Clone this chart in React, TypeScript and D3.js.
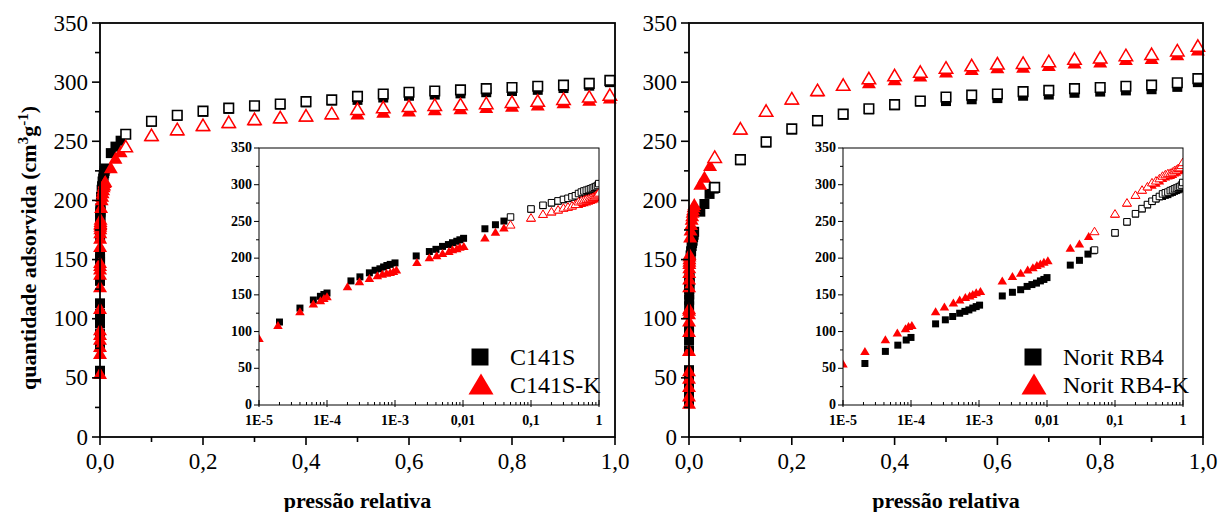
import React from "react";
import * as d3 from "d3";

const W = 1219;
const H = 512;

// desorption branch pressures (open symbols) and the high-pressure adsorption points
const desP = [0.05, 0.1, 0.15, 0.2, 0.25, 0.3, 0.35, 0.4, 0.45, 0.5, 0.55, 0.6, 0.65, 0.7, 0.75, 0.8, 0.85, 0.9, 0.95, 0.99];
const hiP = desP.slice(1);

// C141S
const c141sLowP = [1e-6, 2e-6, 3.5e-6, 5e-6, 7e-6, 2e-5, 4e-5, 6.3e-5, 8e-5, 9e-5, 1e-4, 2.25e-4, 3.05e-4, 4.2e-4, 5.1e-4, 6e-4, 6.8e-4, 7.6e-4, 8.5e-4, 1e-3, 2.05e-3, 3.2e-3, 4e-3, 5e-3, 6.1e-3, 7e-3, 8.1e-3, 9e-3, 0.0102, 0.021, 0.03, 0.04];
const c141sLowV = [56, 76, 87, 96, 104, 113, 132, 143, 148, 150.5, 152.5, 169, 174.5, 180, 183.5, 185.5, 188, 190, 191.5, 193.5, 203, 209, 212, 216, 218.5, 221, 223, 225, 227, 240, 245.5, 250.5];
const c141sHiV = [266.5, 271.5, 275, 277.5, 279.5, 281, 283, 284.5, 285, 287, 288.5, 289.5, 290.5, 291.5, 292.5, 293.5, 295, 297, 300];
const c141sDesV = [256, 267, 272, 275.5, 278, 280, 281.5, 283.5, 285, 288, 290, 291.5, 292.5, 293.5, 294.5, 295.5, 296.5, 297.5, 299, 301.5];

// C141S-K
const c141skLowP = [1e-6, 2e-6, 3.5e-6, 5e-6, 7e-6, 1e-5, 1.9e-5, 4e-5, 6.3e-5, 8e-5, 9e-5, 1e-4, 2e-4, 3e-4, 4.2e-4, 5.5e-4, 6.5e-4, 7.5e-4, 8.5e-4, 9.5e-4, 1.05e-3, 2.1e-3, 3.2e-3, 4.1e-3, 5e-3, 6.2e-3, 7e-3, 8.1e-3, 9e-3, 0.0103, 0.021, 0.03, 0.04];
const c141skLowV = [53, 70, 76, 82, 86, 90, 108, 126.5, 137, 141.5, 144.5, 147, 160.5, 167.5, 172, 175.5, 177.5, 179, 180, 181.5, 183.5, 193.5, 200, 203, 206, 208.5, 211, 212.5, 214.5, 215.5, 227, 235, 240.5];
const c141skHiV = [254, 259, 262.5, 265, 267.5, 269, 270.5, 272.5, 272.5, 274, 275, 276, 277, 278, 279, 280, 282, 284, 286];
const c141skDesV = [245, 254.5, 259.5, 263, 265.5, 268, 269.5, 271, 273, 276.5, 278, 279, 280, 280.5, 281.5, 282.5, 283.5, 285, 287, 288.5];

// Norit RB4
const rb4LowP = [1e-6, 2e-6, 4e-6, 7e-6, 2.1e-5, 4.2e-5, 6.4e-5, 8.5e-5, 1e-4, 2.3e-4, 3.2e-4, 4.1e-4, 5.2e-4, 6.2e-4, 7.1e-4, 8.1e-4, 9.1e-4, 1.02e-3, 2.2e-3, 3.1e-3, 4.1e-3, 5.1e-3, 6e-3, 7e-3, 8e-3, 9e-3, 0.01, 0.022, 0.03, 0.04, 0.048];
const rb4LowV = [31, 37, 44, 50, 56.5, 73, 81.5, 88.5, 92, 110.5, 116, 120.5, 125, 127.5, 129.5, 132, 134, 136, 148.5, 153.5, 157, 161.5, 164, 166, 169, 171, 173.5, 190.5, 197, 205.5, 210];
const rb4HiV = [234, 249, 260, 267, 272.5, 277, 280.5, 283.5, 284, 285.5, 286.5, 288.5, 289.5, 291, 292, 293, 294, 296, 300];
const rb4DesV = [211, 234.5, 249.5, 260.5, 267.5, 273, 277.5, 281, 284, 287.5, 289, 290, 292, 293, 294.5, 295.5, 296.5, 297.5, 299.5, 303];

// Norit RB4-K
const rb4kLowP = [1e-6, 2e-6, 4e-6, 7e-6, 1e-5, 2.1e-5, 4.2e-5, 6.3e-5, 8.3e-5, 9.2e-5, 1.03e-4, 2.3e-4, 3.1e-4, 4.2e-4, 5.2e-4, 6.3e-4, 7.3e-4, 8.1e-4, 9.1e-4, 1.05e-3, 2.2e-3, 3.1e-3, 4.1e-3, 5.2e-3, 6.2e-3, 7.1e-3, 8e-3, 9e-3, 0.0103, 0.022, 0.03, 0.041];
const rb4kLowV = [28, 34, 42, 49, 55.5, 72.5, 88.5, 97.5, 103.5, 106.5, 108, 126.5, 133, 138.5, 142.5, 146, 148, 150, 152.5, 154, 168.5, 174.5, 179, 183.5, 186.5, 189.5, 191.5, 194, 196, 213, 219, 229];
const rb4kHiV = [259.5, 274.5, 285, 292, 296.5, 299, 301.5, 304.5, 308, 310, 311.5, 312, 313.5, 315.5, 316.5, 318.5, 319.5, 322.5, 326.5];
const rb4kDesV = [236, 260, 275, 285.5, 292.5, 297, 302.5, 305, 308, 311.5, 313.5, 315, 315.5, 317, 319, 320, 322, 323, 326, 330];

const mainTicksY = d3.range(0, 351, 50);
const insetTickLabels = ["1E-5", "1E-4", "1E-3", "0,01", "0,1", "1"];

const FONT = "Liberation Serif";
const RED = "#ff0000";

type Pt = { p: number; v: number };
const zip = (ps: number[], vs: number[]): Pt[] => ps.map((p, i) => ({ p, v: vs[i] }));

const tri = (w: number, h: number) => `M0,${-h * 0.6}L${w / 2},${h * 0.4}L${-w / 2},${h * 0.4}Z`;
const sq = (s: number) => `M${-s / 2},${-s / 2}h${s}v${s}h${-s}Z`;

type PanelProps = {
  id: string;
  x0: number;
  x1: number;
  ix0: number;
  ix1: number;
  blackFilled: Pt[];
  blackOpen: Pt[];
  redFilled: Pt[];
  redOpen: Pt[];
  names: [string, string];
  legendX: number;
  yLabel?: boolean;
};

const Panel = ({ id, x0, x1, ix0, ix1, blackFilled, blackOpen, redFilled, redOpen, names, legendX, yLabel }: PanelProps) => {
  const top = 23;
  const bottom = 437;
  const x = d3.scaleLinear().domain([0, 1]).range([x0, x1]);
  const y = d3.scaleLinear().domain([0, 350]).range([bottom, top]);

  const iTop = 148;
  const iBottom = 405;
  const ix = d3.scaleLog().domain([1e-5, 1]).range([ix0, ix1]);
  const iy = d3.scaleLinear().domain([0, 350]).range([iBottom, iTop]);

  const minorLog: number[] = [];
  for (let e = -5; e < 0; e++) for (let k = 2; k <= 9; k++) minorLog.push(k * Math.pow(10, e));
  const majorLog = d3.range(-5, 1).map((e) => Math.pow(10, e));

  const fmt = (d: number) => d3.format(".1f")(d).replace(".", ",");

  const markers = (pts: Pt[], sx: (p: number) => number, sy: (v: number) => number, d: string, fill: string, stroke: string, sw: number) =>
    pts.map((pt, i) => (
      <path key={i} d={d} transform={`translate(${sx(pt.p)},${sy(pt.v)})`} fill={fill} stroke={stroke} strokeWidth={sw} />
    ));

  const mx = (p: number) => x(p);
  const ixf = (p: number) => ix(p);

  return (
    <g>
      {/* main plot */}
      {markers(blackFilled, mx, y, sq(10), "#000", "none", 0)}
      {markers(redFilled, mx, y, tri(14, 12), RED, "none", 0)}
      {markers(blackOpen, mx, y, sq(9.5), "#fff", "#000", 1.6)}
      {markers(redOpen, mx, y, tri(13.5, 11.5), "#fff", RED, 1.5)}

      <rect x={x0} y={top} width={x1 - x0} height={bottom - top} fill="none" stroke="#000" strokeWidth={1.8} />
      {d3.range(0, 1.01, 0.1).map((t, i) => (
        <line key={"xt" + i} x1={x(t)} x2={x(t)} y1={bottom} y2={bottom + (i % 2 === 0 ? 8 : 5)} stroke="#000" strokeWidth={1.6} />
      ))}
      {d3.range(0, 1.01, 0.2).map((t, i) => (
        <text key={"xl" + i} x={x(t)} y={469} textAnchor="middle" fontFamily={FONT} fontSize={23}>
          {fmt(t)}
        </text>
      ))}
      {d3.range(0, 351, 25).map((t, i) => (
        <line key={"yt" + i} x1={x0} x2={x0 - (i % 2 === 0 ? 8 : 5)} y1={y(t)} y2={y(t)} stroke="#000" strokeWidth={1.6} />
      ))}
      {mainTicksY.map((t) => (
        <text key={"yl" + t} x={x0 - 12} y={y(t)} dy="0.33em" textAnchor="end" fontFamily={FONT} fontSize={23}>
          {t}
        </text>
      ))}
      <text x={(x0 + x1) / 2} y={508} textAnchor="middle" fontFamily={FONT} fontSize={22} fontWeight="bold">
        pressão relativa
      </text>
      {yLabel && (
        <text transform="translate(36,248) rotate(-90)" textAnchor="middle" fontFamily={FONT} fontSize={22} fontWeight="bold">
          quantidade adsorvida (cm
          <tspan dy={-8} fontSize={15}>3</tspan>
          <tspan dy={8}>g</tspan>
          <tspan dy={-8} fontSize={15}>-1</tspan>
          <tspan dy={8}>)</tspan>
        </text>
      )}

      {/* inset */}
      <defs>
        <clipPath id={id + "clip"}>
          <rect x={ix0} y={iTop} width={ix1 - ix0} height={iBottom - iTop} />
        </clipPath>
      </defs>
      <rect x={ix0} y={iTop} width={ix1 - ix0} height={iBottom - iTop} fill="#fff" />
      <g clipPath={`url(#${id}clip)`}>
        {markers(blackFilled, ixf, iy, sq(7), "#000", "none", 0)}
        {markers(redFilled, ixf, iy, tri(9.5, 8), RED, "none", 0)}
        {markers(blackOpen, ixf, iy, sq(6.5), "#fff", "#000", 1)}
        {markers(redOpen, ixf, iy, tri(9, 7.5), "#fff", RED, 1)}
      </g>
      <rect x={ix0} y={iTop} width={ix1 - ix0} height={iBottom - iTop} fill="none" stroke="#000" strokeWidth={1} />
      {minorLog.map((t, i) => (
        <line key={"mt" + i} x1={ix(t)} x2={ix(t)} y1={iBottom} y2={iBottom - 3} stroke="#000" strokeWidth={1} />
      ))}
      {majorLog.map((t, i) => (
        <line key={"Mt" + i} x1={ix(t)} x2={ix(t)} y1={iBottom + 2} y2={iBottom - 5} stroke="#000" strokeWidth={1} />
      ))}
      {majorLog.map((t, i) => (
        <text key={"il" + i} x={ix(t)} y={iBottom + 20} textAnchor="middle" fontFamily={FONT} fontSize={14} fontWeight="bold">
          {insetTickLabels[i]}
        </text>
      ))}
      {d3.range(0, 351, 25).map((t, i) => (
        <line key={"iyt" + i} x1={ix0} x2={ix0 - (i % 2 === 0 ? 5 : 3)} y1={iy(t)} y2={iy(t)} stroke="#000" strokeWidth={1} />
      ))}
      {mainTicksY.map((t) => (
        <text key={"iyl" + t} x={ix0 - 7} y={iy(t)} dy="0.3em" textAnchor="end" fontFamily={FONT} fontSize={14} fontWeight="bold">
          {t}
        </text>
      ))}

      {/* legend */}
      <path d={sq(17)} transform={`translate(${legendX},357)`} fill="#000" />
      <text x={legendX + 30} y={365} fontFamily={FONT} fontSize={24}>
        {names[0]}
      </text>
      <path d={tri(25, 21)} transform={`translate(${legendX + 1},386)`} fill={RED} />
      <text x={legendX + 30} y={393} fontFamily={FONT} fontSize={24}>
        {names[1]}
      </text>
    </g>
  );
};

export default function App() {
  return (
    <svg width={W} height={H} style={{ position: "absolute", left: 0, top: 0, background: "#fff" }}>
      <Panel
        id="left"
        x0={100}
        x1={615}
        ix0={259}
        ix1={599}
        blackFilled={zip(c141sLowP, c141sLowV).concat(zip(hiP, c141sHiV))}
        blackOpen={zip(desP, c141sDesV)}
        redFilled={zip(c141skLowP, c141skLowV).concat(zip(hiP, c141skHiV))}
        redOpen={zip(desP, c141skDesV)}
        names={["C141S", "C141S-K"]}
        legendX={480}
        yLabel
      />
      <Panel
        id="right"
        x0={689}
        x1={1203}
        ix0={843}
        ix1={1183}
        blackFilled={zip(rb4LowP, rb4LowV).concat(zip(hiP, rb4HiV))}
        blackOpen={zip(desP, rb4DesV)}
        redFilled={zip(rb4kLowP, rb4kLowV).concat(zip(hiP, rb4kHiV))}
        redOpen={zip(desP, rb4kDesV)}
        names={["Norit RB4", "Norit RB4-K"]}
        legendX={1033}
      />
    </svg>
  );
}
